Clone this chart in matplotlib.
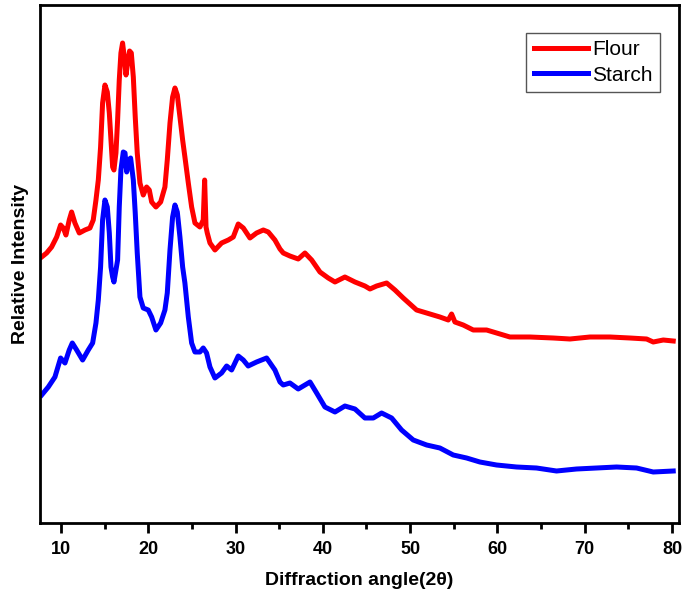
import matplotlib
matplotlib.use("Agg")
import matplotlib.pyplot as plt
from matplotlib.ticker import MultipleLocator

# Flour (red) pattern: 2theta and relative intensity (arbitrary units)
flour_x = [7.79, 8.36, 8.93, 9.51, 9.96, 10.27, 10.57, 10.95, 11.22, 11.6, 12.1, 12.75, 13.32,
           13.70, 14.01, 14.28, 14.54, 14.77, 15.04, 15.31, 15.54, 15.73, 15.92, 16.07, 16.30,
           16.49, 16.68, 16.87, 17.06, 17.29, 17.45, 17.64, 17.86, 18.06, 18.29, 18.51, 18.74,
           19.05, 19.43, 19.81, 20.12, 20.39, 20.88, 21.42, 21.91, 22.18, 22.49, 22.79, 23.06,
           23.33, 23.63, 23.94, 24.20, 24.59, 24.97, 25.35, 25.92, 26.30, 26.46, 26.62, 26.76,
           27.07, 27.64, 28.4, 29.17, 29.74, 30.31, 30.89, 31.65, 32.41, 33.18, 33.75, 34.51,
           35.09, 35.47, 36.23, 37.18, 37.95, 38.72, 39.67, 40.62, 41.39, 42.53, 43.68, 44.82,
           45.4, 46.16, 47.31, 48.26, 49.21, 50.74, 51.89, 53.41, 54.37, 54.75, 55.13, 56.08,
           57.23, 58.76, 60.29, 61.43, 63.72, 66.39, 68.31, 70.6, 72.89, 75.18, 77.09, 77.85,
           79.0, 80.14]
flour_y = [266, 270, 276, 286, 298, 295, 288, 303, 311, 300, 290, 293, 295,
           303, 323, 343, 376, 420, 438, 431, 410, 383, 356, 353, 370,
           403, 443, 470, 480, 463, 448, 460, 472, 470, 446, 406, 370,
           340, 328, 336, 333, 321, 316, 321, 336, 363, 400, 426, 435,
           428, 406, 383, 366, 340, 316, 300, 296, 303, 343, 296, 290,
           280, 273, 280, 283, 286, 299, 295, 285, 290, 293, 291, 283,
           274, 270, 267, 264, 270, 263, 251, 245, 241, 246, 241, 237,
           234, 237, 240, 233, 225, 213, 210, 206, 203, 209, 201, 198,
           193, 193, 189, 186, 186, 185, 184, 186, 186, 185, 184, 181,
           183, 182]

# Starch (blue) pattern
starch_x = [7.79, 8.55, 9.31, 9.96, 10.46, 10.95, 11.3, 11.8, 12.48, 13.13, 13.63, 14.01, 14.28,
            14.54, 14.77, 15.04, 15.31, 15.54, 15.73, 15.92, 16.07, 16.30, 16.49, 16.68, 16.87,
            17.14, 17.34, 17.53, 17.75, 17.98, 18.29, 18.51, 18.74, 19.05, 19.43, 20.0, 20.39,
            20.88, 21.42, 21.91, 22.18, 22.49, 22.79, 23.06, 23.33, 23.63, 23.94, 24.20, 24.59,
            24.97, 25.35, 25.92, 26.30, 26.68, 27.07, 27.64, 28.4, 28.98, 29.55, 30.31, 30.89,
            31.45, 32.41, 33.56, 34.51, 35.09, 35.47, 36.23, 37.18, 38.53, 39.29, 40.24, 41.39,
            42.53, 43.68, 44.82, 45.78, 46.73, 47.88, 49.02, 50.36, 51.89, 53.41, 54.94, 56.47,
            57.99, 59.90, 62.19, 64.48, 66.77, 69.06, 71.35, 73.65, 75.94, 77.85, 80.14]
starch_y = [128, 136, 146, 165, 160, 173, 180, 173, 163, 173, 180, 200, 223,
            256, 303, 323, 316, 290, 256, 246, 241, 253, 263, 316, 353,
            371, 370, 351, 363, 365, 343, 310, 270, 226, 215, 213, 206,
            193, 200, 213, 230, 273, 306, 318, 311, 286, 256, 240, 206,
            180, 171, 171, 175, 170, 156, 145, 150, 157, 153, 167, 163,
            157, 161, 165, 153, 141, 138, 140, 134, 141, 130, 116, 111,
            117, 114, 105, 105, 110, 105, 93, 83, 78, 75, 68, 65,
            61, 58, 56, 55, 52, 54, 55, 56, 55, 51, 52]

xticks = [10, 20, 30, 40, 50, 60, 70, 80]

plt.rcParams['font.family'] = ['Liberation Sans', 'DejaVu Sans']

fig = plt.figure(figsize=(6.85, 6.02), dpi=100)
ax = fig.add_axes([40/685, 79/602, 639/685, 518/602])

ax.plot(flour_x, flour_y, color='#ff0000', lw=3.6, label='Flour', solid_joinstyle='round')
ax.plot(starch_x, starch_y, color='#0000ff', lw=3.6, label='Starch', solid_joinstyle='round')

ax.set_xlim(7.6, 80.8)
ax.set_ylim(0, 518)
ax.set_xticks(xticks)
ax.set_xticklabels([str(t) for t in xticks], fontweight='bold', fontsize=13)
ax.xaxis.set_minor_locator(MultipleLocator(5))
ax.set_yticks([])
ax.tick_params(axis='x', which='major', length=7, width=2, direction='out', pad=6)
ax.tick_params(axis='x', which='minor', length=4, width=2, direction='out')
for s in ax.spines.values():
    s.set_linewidth(2)

ax.set_xlabel('Diffraction angle(2θ)', fontweight='bold', fontsize=14, labelpad=10)
ax.set_ylabel('Relative Intensity', fontweight='bold', fontsize=14, labelpad=8)

leg = ax.legend(loc='upper right', bbox_to_anchor=(0.970, 0.946), borderaxespad=0,
                fontsize=15, handlelength=2.6, fancybox=False, framealpha=1,
                edgecolor='#555555', handletextpad=0.2, labelspacing=0.3,
                borderpad=0.35)
leg.get_frame().set_linewidth(1.0)

fig.savefig('out.png', dpi=100)
